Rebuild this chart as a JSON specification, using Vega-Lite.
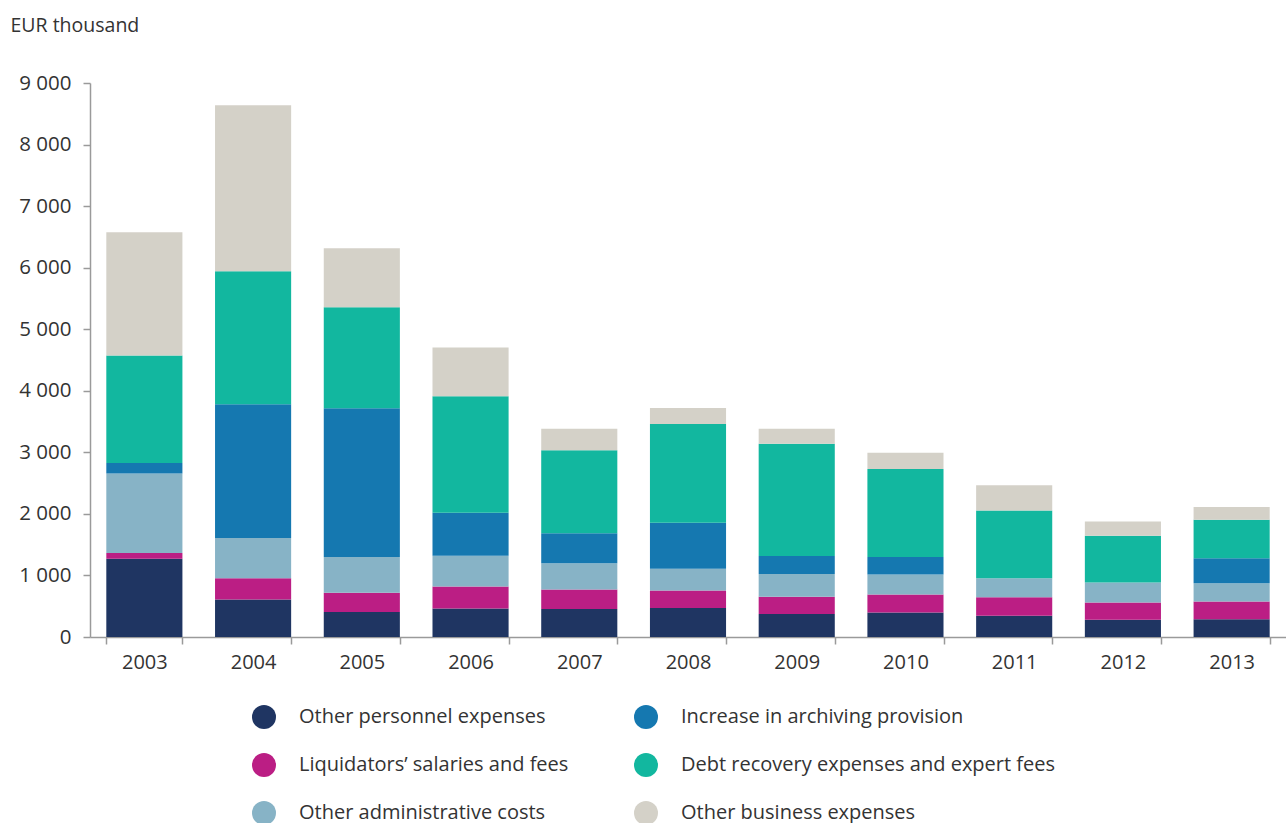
{
  "$schema": "https://vega.github.io/schema/vega-lite/v6.json",
  "width": 1196,
  "height": 554,
  "autosize": {"type": "none"},
  "padding": {"left": 90, "top": 83, "right": 0, "bottom": 186},
  "background": "white",
  "config": {
    "view": {"stroke": null},
    "font": "Open Sans"
  },
  "data": {
    "values": [
      {"year": "2003", "series": "Other personnel expenses", "value": 1270},
      {"year": "2003", "series": "Liquidators’ salaries and fees", "value": 95},
      {"year": "2003", "series": "Other administrative costs", "value": 1290},
      {"year": "2003", "series": "Increase in archiving provision", "value": 170},
      {"year": "2003", "series": "Debt recovery expenses and expert fees", "value": 1750},
      {"year": "2003", "series": "Other business expenses", "value": 2000},
      {"year": "2004", "series": "Other personnel expenses", "value": 610},
      {"year": "2004", "series": "Liquidators’ salaries and fees", "value": 345},
      {"year": "2004", "series": "Other administrative costs", "value": 655},
      {"year": "2004", "series": "Increase in archiving provision", "value": 2170},
      {"year": "2004", "series": "Debt recovery expenses and expert fees", "value": 2160},
      {"year": "2004", "series": "Other business expenses", "value": 2700},
      {"year": "2005", "series": "Other personnel expenses", "value": 405},
      {"year": "2005", "series": "Liquidators’ salaries and fees", "value": 315},
      {"year": "2005", "series": "Other administrative costs", "value": 580},
      {"year": "2005", "series": "Increase in archiving provision", "value": 2415},
      {"year": "2005", "series": "Debt recovery expenses and expert fees", "value": 1640},
      {"year": "2005", "series": "Other business expenses", "value": 960},
      {"year": "2006", "series": "Other personnel expenses", "value": 465},
      {"year": "2006", "series": "Liquidators’ salaries and fees", "value": 355},
      {"year": "2006", "series": "Other administrative costs", "value": 500},
      {"year": "2006", "series": "Increase in archiving provision", "value": 700},
      {"year": "2006", "series": "Debt recovery expenses and expert fees", "value": 1890},
      {"year": "2006", "series": "Other business expenses", "value": 795},
      {"year": "2007", "series": "Other personnel expenses", "value": 455},
      {"year": "2007", "series": "Liquidators’ salaries and fees", "value": 315},
      {"year": "2007", "series": "Other administrative costs", "value": 430},
      {"year": "2007", "series": "Increase in archiving provision", "value": 485},
      {"year": "2007", "series": "Debt recovery expenses and expert fees", "value": 1350},
      {"year": "2007", "series": "Other business expenses", "value": 350},
      {"year": "2008", "series": "Other personnel expenses", "value": 470},
      {"year": "2008", "series": "Liquidators’ salaries and fees", "value": 285},
      {"year": "2008", "series": "Other administrative costs", "value": 355},
      {"year": "2008", "series": "Increase in archiving provision", "value": 745},
      {"year": "2008", "series": "Debt recovery expenses and expert fees", "value": 1605},
      {"year": "2008", "series": "Other business expenses", "value": 260},
      {"year": "2009", "series": "Other personnel expenses", "value": 375},
      {"year": "2009", "series": "Liquidators’ salaries and fees", "value": 280},
      {"year": "2009", "series": "Other administrative costs", "value": 370},
      {"year": "2009", "series": "Increase in archiving provision", "value": 290},
      {"year": "2009", "series": "Debt recovery expenses and expert fees", "value": 1825},
      {"year": "2009", "series": "Other business expenses", "value": 245},
      {"year": "2010", "series": "Other personnel expenses", "value": 400},
      {"year": "2010", "series": "Liquidators’ salaries and fees", "value": 290},
      {"year": "2010", "series": "Other administrative costs", "value": 325},
      {"year": "2010", "series": "Increase in archiving provision", "value": 285},
      {"year": "2010", "series": "Debt recovery expenses and expert fees", "value": 1430},
      {"year": "2010", "series": "Other business expenses", "value": 265},
      {"year": "2011", "series": "Other personnel expenses", "value": 345},
      {"year": "2011", "series": "Liquidators’ salaries and fees", "value": 300},
      {"year": "2011", "series": "Other administrative costs", "value": 310},
      {"year": "2011", "series": "Increase in archiving provision", "value": 0},
      {"year": "2011", "series": "Debt recovery expenses and expert fees", "value": 1100},
      {"year": "2011", "series": "Other business expenses", "value": 410},
      {"year": "2012", "series": "Other personnel expenses", "value": 280},
      {"year": "2012", "series": "Liquidators’ salaries and fees", "value": 280},
      {"year": "2012", "series": "Other administrative costs", "value": 325},
      {"year": "2012", "series": "Increase in archiving provision", "value": 0},
      {"year": "2012", "series": "Debt recovery expenses and expert fees", "value": 760},
      {"year": "2012", "series": "Other business expenses", "value": 230},
      {"year": "2013", "series": "Other personnel expenses", "value": 290},
      {"year": "2013", "series": "Liquidators’ salaries and fees", "value": 285},
      {"year": "2013", "series": "Other administrative costs", "value": 300},
      {"year": "2013", "series": "Increase in archiving provision", "value": 405},
      {"year": "2013", "series": "Debt recovery expenses and expert fees", "value": 625},
      {"year": "2013", "series": "Other business expenses", "value": 205}
    ]
  },
  "transform": [
    {
      "calculate": "indexof(['Other personnel expenses', 'Liquidators’ salaries and fees', 'Other administrative costs', 'Increase in archiving provision', 'Debt recovery expenses and expert fees', 'Other business expenses'], datum.series)",
      "as": "stackOrder"
    }
  ],
  "mark": {"type": "bar"},
  "encoding": {
    "x": {
      "field": "year",
      "type": "ordinal",
      "scale": {"paddingInner": 0.3, "paddingOuter": 0.15},
      "axis": {
        "title": null,
        "labelAngle": 0,
        "labelFontSize": 20,
        "labelColor": "#333333",
        "labelPadding": 8,
        "tickBand": "extent",
        "tickSize": 7,
        "tickColor": "#9a9a9a",
        "tickWidth": 1.5,
        "domainColor": "#9a9a9a",
        "domainWidth": 1.5
      }
    },
    "y": {
      "field": "value",
      "type": "quantitative",
      "stack": "zero",
      "scale": {"domain": [0, 9000], "nice": false},
      "axis": {
        "title": "EUR thousand",
        "titleAngle": 0,
        "titleAlign": "left",
        "titleBaseline": "alphabetic",
        "titleX": -80,
        "titleY": -52,
        "titleFontSize": 19.5,
        "titleFontWeight": "normal",
        "titleColor": "#333333",
        "values": [0, 1000, 2000, 3000, 4000, 5000, 6000, 7000, 8000, 9000],
        "labelExpr": "replace(format(datum.value, ','), ',', ' ')",
        "labelFontSize": 20.5,
        "labelColor": "#333333",
        "labelPadding": 12,
        "grid": false,
        "tickSize": 7,
        "tickColor": "#9a9a9a",
        "tickWidth": 1.5,
        "domainColor": "#9a9a9a",
        "domainWidth": 1.5
      }
    },
    "color": {
      "field": "series",
      "type": "nominal",
      "scale": {
        "domain": [
          "Other personnel expenses",
          "Liquidators’ salaries and fees",
          "Other administrative costs",
          "Increase in archiving provision",
          "Debt recovery expenses and expert fees",
          "Other business expenses"
        ],
        "range": ["#1f3562", "#bb1e84", "#87b3c6", "#1578b0", "#12b79f", "#d4d1c8"]
      },
      "legend": {
        "title": null,
        "orient": "none",
        "legendX": 162,
        "legendY": 622,
        "columns": 2,
        "symbolType": "circle",
        "symbolSize": 576,
        "symbolStrokeWidth": 0,
        "symbolOpacity": 1,
        "labelFontSize": 20,
        "labelColor": "#333333",
        "labelOffset": 23,
        "labelLimit": 500,
        "columnPadding": 65,
        "rowPadding": 24
      }
    },
    "order": {"field": "stackOrder", "type": "quantitative", "sort": "ascending"}
  }
}
